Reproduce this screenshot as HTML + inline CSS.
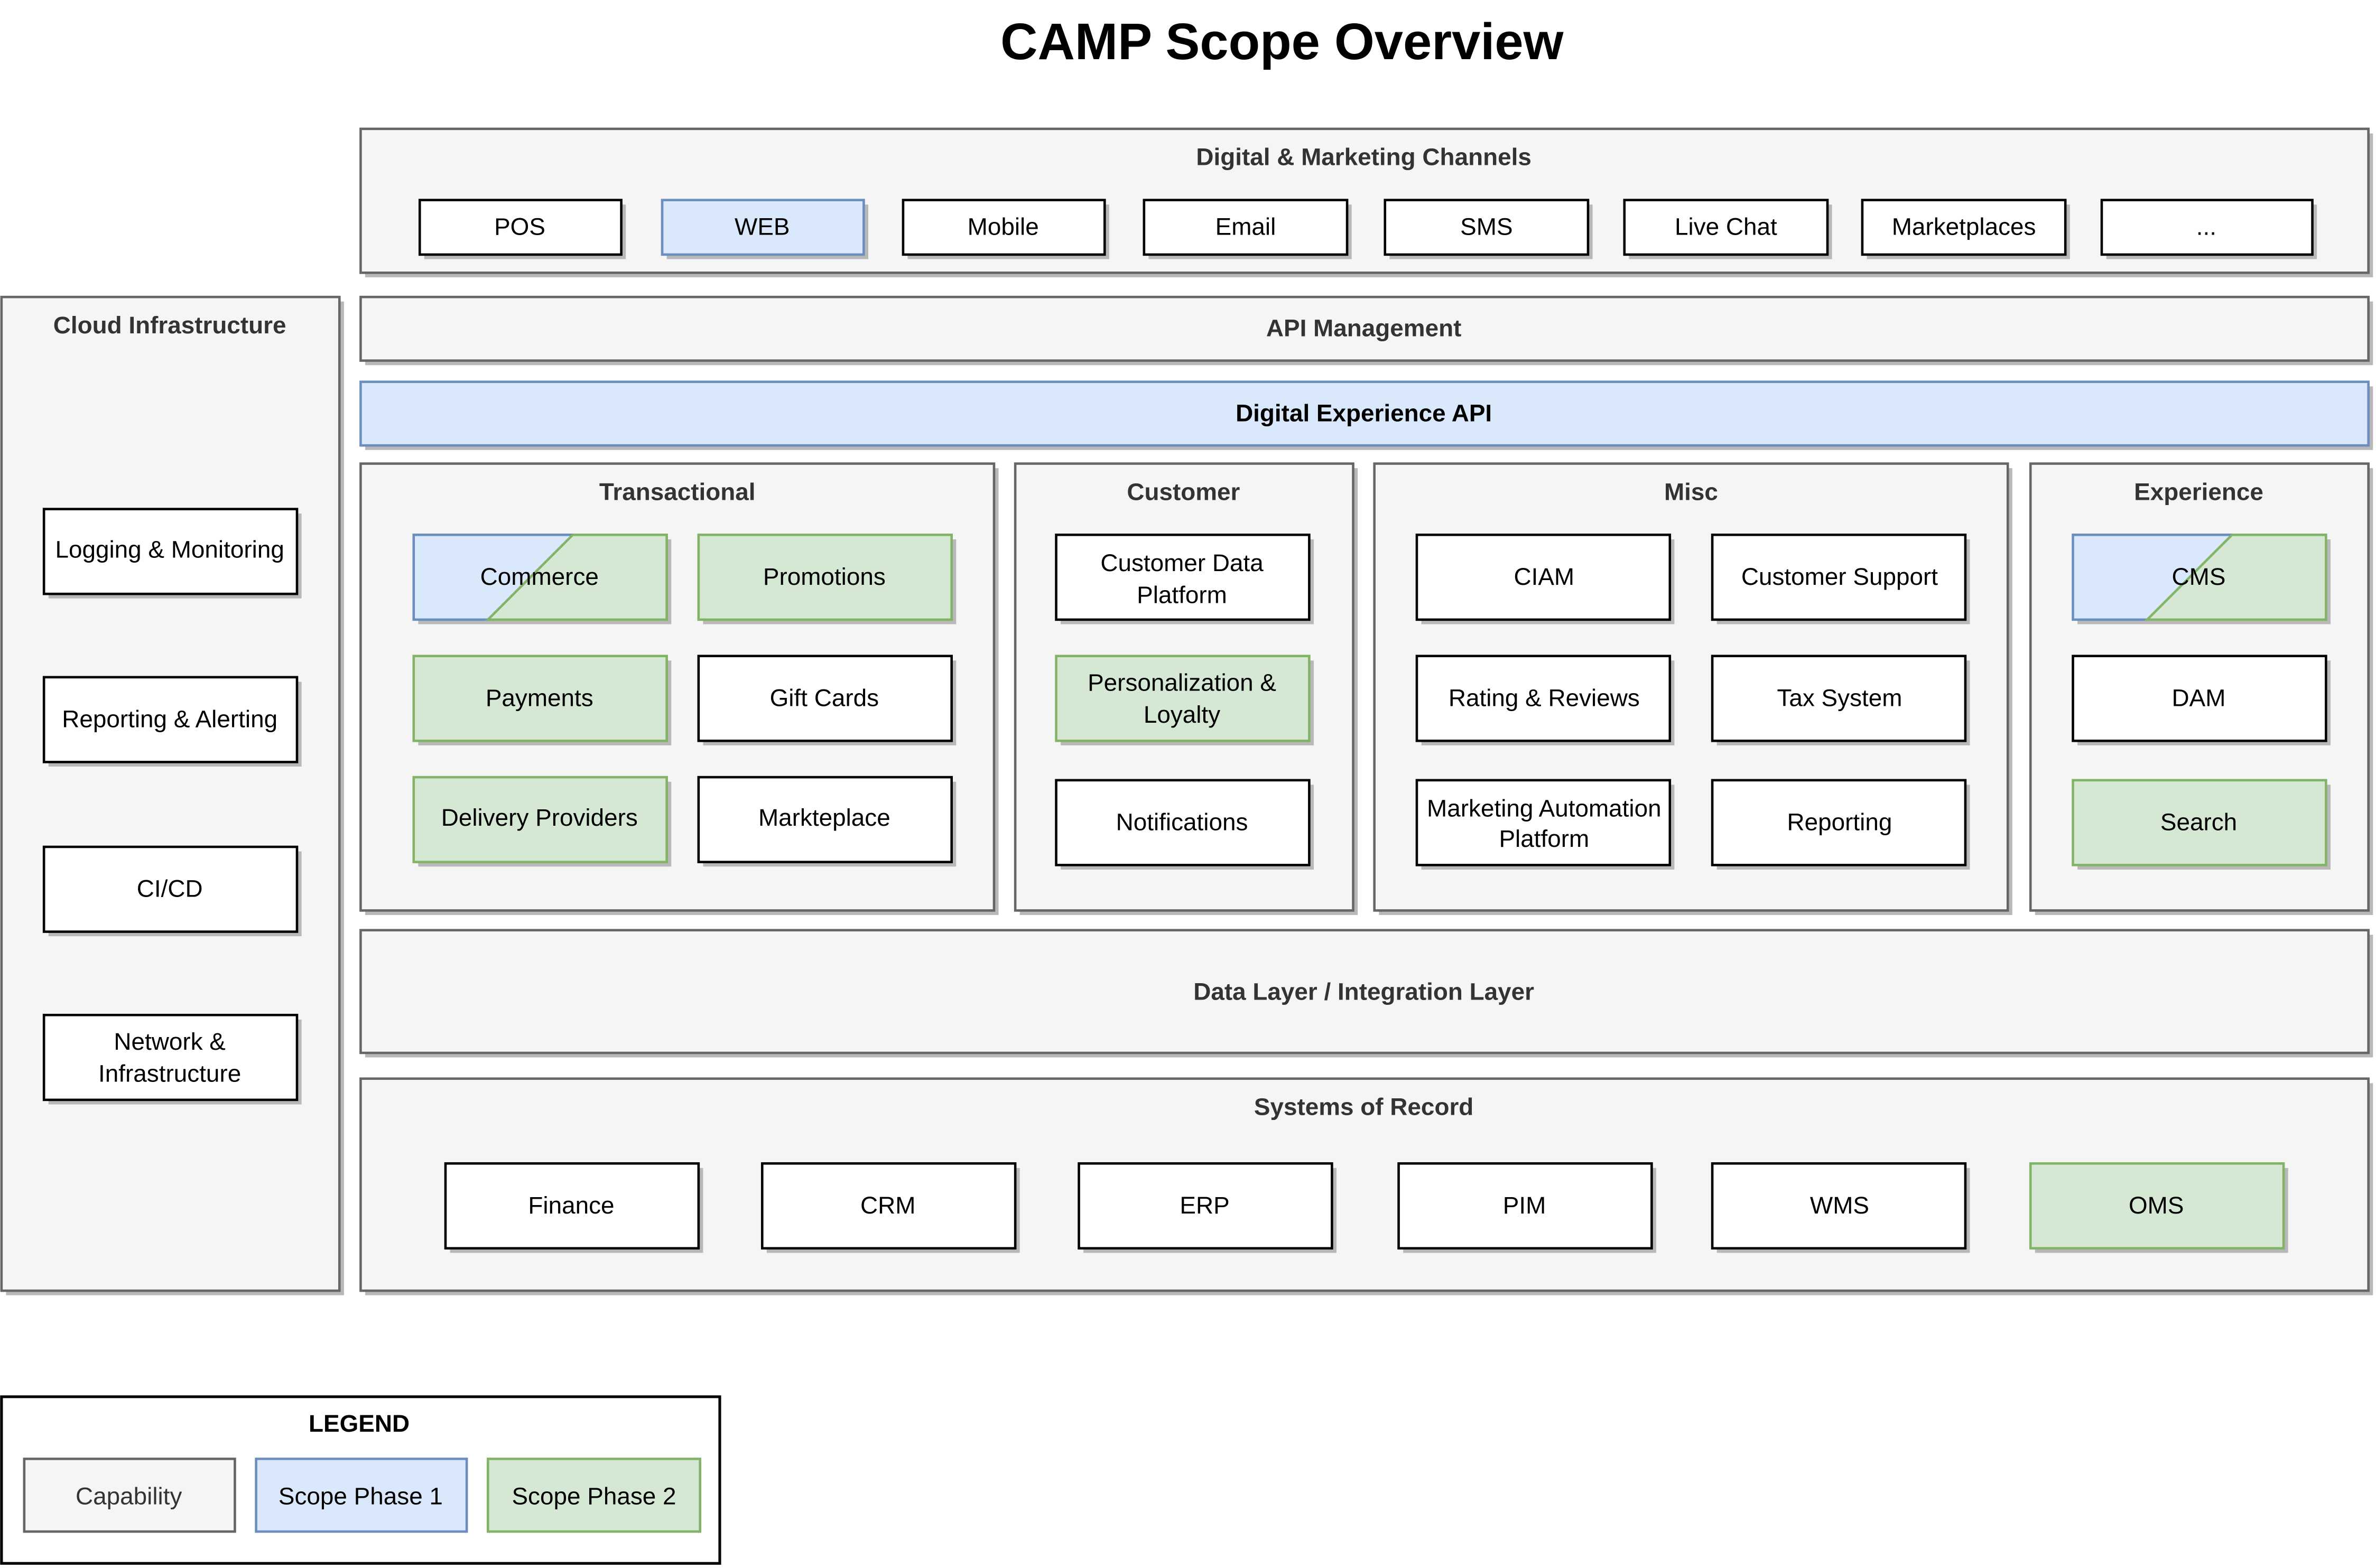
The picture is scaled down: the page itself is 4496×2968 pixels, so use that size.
<!DOCTYPE html>
<html><head><meta charset="utf-8"><style>html,body{margin:0;padding:0;background:#fff}svg{display:block}</style></head>
<body>
<svg xmlns="http://www.w3.org/2000/svg" width="4496" height="2968" viewBox="0 0 1568 1035" font-family="Liberation Sans, Arial, sans-serif">
<defs>
<style>
.c{fill:#f5f5f5;stroke:#666;stroke-width:1.6}
.w{fill:#fff;stroke:#000;stroke-width:1.6}
.b{fill:#dae8fc;stroke:#6c8ebf;stroke-width:1.6}
.g{fill:#d5e8d4;stroke:#82b366;stroke-width:1.6}
.s{fill:#b8b8b8}
.h{font-weight:bold;font-size:16px;fill:#333;text-anchor:middle}
.t{font-size:16px;fill:#000;text-anchor:middle}
</style>
</defs>
<rect width="1568" height="1035" fill="#fff"/>
<text x="846" y="39" text-anchor="middle" font-weight="bold" font-size="34" fill="#000">CAMP Scope Overview</text>

<!-- containers -->
<g>
<rect class="s" x="241" y="88" width="1325" height="95"/><rect class="c" x="238" y="85" width="1325" height="95"/>
<rect class="s" x="4" y="199" width="223" height="656"/><rect class="c" x="1" y="196" width="223" height="656"/>
<rect class="s" x="241" y="199" width="1325" height="42"/><rect class="c" x="238" y="196" width="1325" height="42"/>
<rect class="s" x="241" y="255" width="1325" height="42"/><rect class="b" x="238" y="252" width="1325" height="42"/>
<rect class="s" x="241" y="309" width="418" height="295"/><rect class="c" x="238" y="306" width="418" height="295"/>
<rect class="s" x="673" y="309" width="223" height="295"/><rect class="c" x="670" y="306" width="223" height="295"/>
<rect class="s" x="910" y="309" width="418" height="295"/><rect class="c" x="907" y="306" width="418" height="295"/>
<rect class="s" x="1343" y="309" width="223" height="295"/><rect class="c" x="1340" y="306" width="223" height="295"/>
<rect class="s" x="241" y="617" width="1325" height="81"/><rect class="c" x="238" y="614" width="1325" height="81"/>
<rect class="s" x="241" y="715" width="1325" height="140"/><rect class="c" x="238" y="712" width="1325" height="140"/>
</g>
<text class="h" x="900" y="109">Digital &amp; Marketing Channels</text>
<text class="h" x="112" y="220">Cloud Infrastructure</text>
<text class="h" x="900" y="222">API Management</text>
<text class="h" x="900" y="278" fill="#000" style="fill:#000">Digital Experience API</text>
<text class="h" x="447" y="330">Transactional</text>
<text class="h" x="781" y="330">Customer</text>
<text class="h" x="1116" y="330">Misc</text>
<text class="h" x="1451" y="330">Experience</text>
<text class="h" x="900" y="660">Data Layer / Integration Layer</text>
<text class="h" x="900" y="736">Systems of Record</text>

<!-- channels -->
<g>
<rect class="s" x="280" y="135" width="133" height="36"/><rect class="w" x="277" y="132" width="133" height="36"/><text class="t" x="343" y="155">POS</text>
<rect class="s" x="440" y="135" width="133" height="36"/><rect class="b" x="437" y="132" width="133" height="36"/><text class="t" x="503" y="155">WEB</text>
<rect class="s" x="599" y="135" width="133" height="36"/><rect class="w" x="596" y="132" width="133" height="36"/><text class="t" x="662" y="155">Mobile</text>
<rect class="s" x="758" y="135" width="134" height="36"/><rect class="w" x="755" y="132" width="134" height="36"/><text class="t" x="822" y="155">Email</text>
<rect class="s" x="917" y="135" width="134" height="36"/><rect class="w" x="914" y="132" width="134" height="36"/><text class="t" x="981" y="155">SMS</text>
<rect class="s" x="1075" y="135" width="134" height="36"/><rect class="w" x="1072" y="132" width="134" height="36"/><text class="t" x="1139" y="155">Live Chat</text>
<rect class="s" x="1232" y="135" width="134" height="36"/><rect class="w" x="1229" y="132" width="134" height="36"/><text class="t" x="1296" y="155">Marketplaces</text>
<rect class="s" x="1390" y="135" width="139" height="36"/><rect class="w" x="1387" y="132" width="139" height="36"/><text class="t" x="1456" y="155">...</text>
</g>

<!-- cloud items -->
<g>
<rect class="s" x="32" y="339" width="167" height="56"/><rect class="w" x="29" y="336" width="167" height="56"/><text class="t" x="112" y="368">Logging &amp; Monitoring</text>
<rect class="s" x="32" y="450" width="167" height="56"/><rect class="w" x="29" y="447" width="167" height="56"/><text class="t" x="112" y="480">Reporting &amp; Alerting</text>
<rect class="s" x="32" y="562" width="167" height="56"/><rect class="w" x="29" y="559" width="167" height="56"/><text class="t" x="112" y="592">CI/CD</text>
<rect class="s" x="32" y="673" width="167" height="56"/><rect class="w" x="29" y="670" width="167" height="56"/><text class="t" x="112" y="693">Network &amp;</text><text class="t" x="112" y="714">Infrastructure</text>
</g>

<!-- transactional -->
<g>
<rect class="s" x="276" y="356" width="167" height="56"/>
<polygon points="273,353 378,353 322,409 273,409" fill="#dae8fc"/>
<polygon points="378,353 440,353 440,409 322,409" fill="#d5e8d4"/>
<polyline points="378,353 273,353 273,409 322,409" fill="none" stroke="#6c8ebf" stroke-width="1.6"/>
<polyline points="378,353 440,353 440,409 322,409 378,353" fill="none" stroke="#82b366" stroke-width="1.6"/>
<text class="t" x="356" y="386">Commerce</text>
<rect class="s" x="464" y="356" width="167" height="56"/><rect class="g" x="461" y="353" width="167" height="56"/><text class="t" x="544" y="386">Promotions</text>
<rect class="s" x="276" y="436" width="167" height="56"/><rect class="g" x="273" y="433" width="167" height="56"/><text class="t" x="356" y="466">Payments</text>
<rect class="s" x="464" y="436" width="167" height="56"/><rect class="w" x="461" y="433" width="167" height="56"/><text class="t" x="544" y="466">Gift Cards</text>
<rect class="s" x="276" y="516" width="167" height="56"/><rect class="g" x="273" y="513" width="167" height="56"/><text class="t" x="356" y="545">Delivery Providers</text>
<rect class="s" x="464" y="516" width="167" height="56"/><rect class="w" x="461" y="513" width="167" height="56"/><text class="t" x="544" y="545">Markteplace</text>
</g>

<!-- customer -->
<g>
<rect class="s" x="700" y="356" width="167" height="56"/><rect class="w" x="697" y="353" width="167" height="56"/><text class="t" x="780" y="377">Customer Data</text><text class="t" x="780" y="398">Platform</text>
<rect class="s" x="700" y="436" width="167" height="56"/><rect class="g" x="697" y="433" width="167" height="56"/><text class="t" x="780" y="456">Personalization &amp;</text><text class="t" x="780" y="477">Loyalty</text>
<rect class="s" x="700" y="518" width="167" height="56"/><rect class="w" x="697" y="515" width="167" height="56"/><text class="t" x="780" y="548">Notifications</text>
</g>

<!-- misc -->
<g>
<rect class="s" x="938" y="356" width="167" height="56"/><rect class="w" x="935" y="353" width="167" height="56"/><text class="t" x="1019" y="386">CIAM</text>
<rect class="s" x="1133" y="356" width="167" height="56"/><rect class="w" x="1130" y="353" width="167" height="56"/><text class="t" x="1214" y="386">Customer Support</text>
<rect class="s" x="938" y="436" width="167" height="56"/><rect class="w" x="935" y="433" width="167" height="56"/><text class="t" x="1019" y="466">Rating &amp; Reviews</text>
<rect class="s" x="1133" y="436" width="167" height="56"/><rect class="w" x="1130" y="433" width="167" height="56"/><text class="t" x="1214" y="466">Tax System</text>
<rect class="s" x="938" y="518" width="167" height="56"/><rect class="w" x="935" y="515" width="167" height="56"/><text class="t" x="1019" y="539">Marketing Automation</text><text class="t" x="1019" y="559">Platform</text>
<rect class="s" x="1133" y="518" width="167" height="56"/><rect class="w" x="1130" y="515" width="167" height="56"/><text class="t" x="1214" y="548">Reporting</text>
</g>

<!-- experience -->
<g>
<rect class="s" x="1371" y="356" width="167" height="56"/>
<polygon points="1368,353 1473,353 1417,409 1368,409" fill="#dae8fc"/>
<polygon points="1473,353 1535,353 1535,409 1417,409" fill="#d5e8d4"/>
<polyline points="1473,353 1368,353 1368,409 1417,409" fill="none" stroke="#6c8ebf" stroke-width="1.6"/>
<polyline points="1473,353 1535,353 1535,409 1417,409 1473,353" fill="none" stroke="#82b366" stroke-width="1.6"/>
<text class="t" x="1451" y="386">CMS</text>
<rect class="s" x="1371" y="436" width="167" height="56"/><rect class="w" x="1368" y="433" width="167" height="56"/><text class="t" x="1451" y="466">DAM</text>
<rect class="s" x="1371" y="518" width="167" height="56"/><rect class="g" x="1368" y="515" width="167" height="56"/><text class="t" x="1451" y="548">Search</text>
</g>

<!-- systems of record -->
<g>
<rect class="s" x="297" y="771" width="167" height="56"/><rect class="w" x="294" y="768" width="167" height="56"/><text class="t" x="377" y="801">Finance</text>
<rect class="s" x="506" y="771" width="167" height="56"/><rect class="w" x="503" y="768" width="167" height="56"/><text class="t" x="586" y="801">CRM</text>
<rect class="s" x="715" y="771" width="167" height="56"/><rect class="w" x="712" y="768" width="167" height="56"/><text class="t" x="795" y="801">ERP</text>
<rect class="s" x="926" y="771" width="167" height="56"/><rect class="w" x="923" y="768" width="167" height="56"/><text class="t" x="1006" y="801">PIM</text>
<rect class="s" x="1133" y="771" width="167" height="56"/><rect class="w" x="1130" y="768" width="167" height="56"/><text class="t" x="1214" y="801">WMS</text>
<rect class="s" x="1343" y="771" width="167" height="56"/><rect class="g" x="1340" y="768" width="167" height="56"/><text class="t" x="1423" y="801">OMS</text>
</g>

<!-- legend -->
<g>
<rect x="1" y="922" width="474" height="110" fill="#fff" stroke="#000" stroke-width="1.8"/>
<text x="237" y="945" text-anchor="middle" font-weight="bold" font-size="16" fill="#000">LEGEND</text>
<rect class="c" x="16" y="963" width="139" height="48"/><text class="t" x="85" y="993" style="fill:#333">Capability</text>
<rect class="b" x="169" y="963" width="139" height="48"/><text class="t" x="238" y="993">Scope Phase 1</text>
<rect class="g" x="322" y="963" width="140" height="48"/><text class="t" x="392" y="993">Scope Phase 2</text>
</g>
</svg>
</body></html>
